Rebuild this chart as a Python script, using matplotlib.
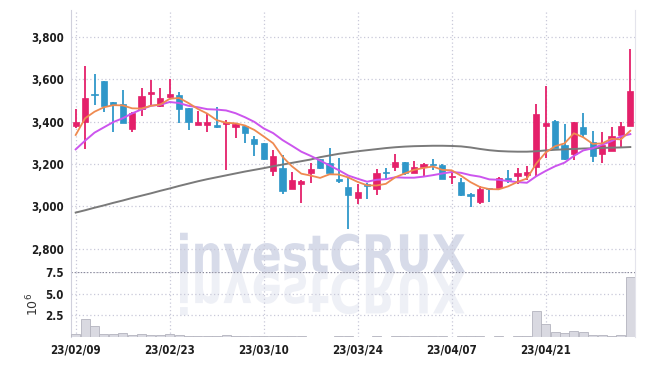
import matplotlib
matplotlib.use("Agg")
import matplotlib.pyplot as plt
import matplotlib.transforms as mtransforms
from matplotlib.textpath import TextPath
from matplotlib.patches import PathPatch
from matplotlib.font_manager import FontProperties, fontManager
from matplotlib.ticker import StrMethodFormatter, FixedLocator

# daily candles, 60 trading days from 23/02/09
opens = [3380, 3400, 3530, 3590, 3495, 3485, 3365, 3460, 3530, 3475,
         3515, 3525, 3465, 3385, 3383, 3385, 3388, 3376, 3380, 3318,
         3297, 3168, 3180, 3080, 3103, 3157, 3222, 3203, 3128, 3093,
         3040, 3106, 3081, 3160, 3184, 3208, 3156, 3184, 3200, 3195,
         3136, 3113, 3058, 3021, 3087, 3088, 3135, 3145, 3148, 3184,
         3381, 3405, 3290, 3245, 3373, 3304, 3246, 3262, 3337, 3380]
highs = [3460, 3665, 3625, 3590, 3495, 3550, 3445, 3560, 3595, 3560,
         3600, 3540, 3465, 3450, 3440, 3470, 3408, 3390, 3380, 3333,
         3300, 3266, 3242, 3163, 3122, 3203, 3225, 3274, 3226, 3140,
         3103, 3111, 3175, 3182, 3247, 3210, 3215, 3203, 3223, 3198,
         3171, 3135, 3062, 3096, 3088, 3138, 3171, 3179, 3190, 3483,
         3570, 3408, 3387, 3400, 3440, 3356, 3351, 3373, 3396, 3742]
lows = [3370, 3270, 3480, 3445, 3350, 3395, 3350, 3425, 3480, 3470,
        3513, 3395, 3360, 3383, 3350, 3372, 3170, 3325, 3297, 3237,
        3220, 3143, 3057, 3080, 3017, 3112, 3178, 3148, 3108, 2890,
        3012, 3036, 3054, 3124, 3168, 3150, 3155, 3143, 3171, 3128,
        3104, 3050, 2998, 3010, 3021, 3085, 3108, 3104, 3124, 3140,
        3230, 3275, 3220, 3218, 3327, 3209, 3203, 3260, 3278, 3378]
closes = [3400, 3510, 3525, 3475, 3480, 3395, 3440, 3520, 3540, 3510,
          3530, 3460, 3400, 3400, 3398, 3375, 3400, 3387, 3348, 3294,
          3222, 3237, 3070, 3124, 3119, 3175, 3180, 3157, 3117, 3053,
          3068, 3098, 3156, 3155, 3208, 3156, 3184, 3200, 3193, 3129,
          3143, 3053, 3050, 3081, 3080, 3135, 3124, 3156, 3160, 3436,
          3392, 3277, 3222, 3397, 3340, 3238, 3288, 3333, 3379, 3545]
volumes = [0.38, 2.08, 1.27, 0.38, 0.38, 0.50, 0.27, 0.38, 0.23, 0.23,
           0.38, 0.23, 0.15, 0.08, 0.15, 0.15, 0.27, 0.15, 0.12, 0.12,
           0.12, 0.12, 0.12, 0.12, 0.08, 0.05, 0.05, 0.05, 0.12, 0.12,
           0.05, 0.05, 0.12, 0.05, 0.12, 0.12, 0.12, 0.12, 0.12, 0.12,
           0.05, 0.12, 0.12, 0.12, 0.05, 0.12, 0.05, 0.12, 0.12, 3.04,
           1.54, 0.62, 0.50, 0.73, 0.54, 0.27, 0.27, 0.15, 0.23, 6.90]

# moving averages
ma_short = [3337, 3416, 3447, 3468, 3478, 3477, 3463, 3462, 3475, 3481,
            3508, 3512, 3488, 3460, 3438, 3407, 3395, 3392, 3382, 3361,
            3330, 3298, 3234, 3189, 3154, 3145, 3134, 3151, 3150, 3136,
            3115, 3099, 3098, 3106, 3137, 3155, 3172, 3181, 3188, 3172,
            3170, 3144, 3114, 3091, 3081, 3080, 3094, 3115, 3131, 3202,
            3254, 3284, 3297, 3345, 3326, 3295, 3297, 3319, 3316, 3357]
ma_mid = [3269, 3310, 3348, 3373, 3398, 3416, 3439, 3458, 3475, 3480,
          3493, 3488, 3475, 3468, 3459, 3457, 3453, 3440, 3421, 3399,
          3368, 3346, 3313, 3286, 3258, 3238, 3216, 3193, 3170, 3145,
          3130, 3116, 3125, 3128, 3137, 3135, 3135, 3140, 3147, 3155,
          3162, 3158, 3147, 3140, 3127, 3125, 3119, 3114, 3111, 3142,
          3167, 3189, 3206, 3238, 3264, 3274, 3291, 3308, 3330, 3341]
ma_long = [2970, 2981, 2993, 3004, 3016, 3027, 3039, 3050, 3061, 3073,
           3084, 3096, 3107, 3118, 3128, 3137, 3146, 3155, 3164, 3172,
           3180, 3189, 3197, 3205, 3213, 3221, 3232, 3240, 3248, 3254,
           3260, 3265, 3270, 3275, 3279, 3282, 3284, 3285, 3286, 3286,
           3285, 3283, 3278, 3271, 3265, 3261, 3259, 3258, 3258, 3260,
           3264, 3267, 3269, 3271, 3273, 3274, 3276, 3277, 3278, 3280]

tick_pos = [0, 10, 20, 30, 40, 50]
tick_labels = ["23/02/09", "23/02/23", "23/03/10", "23/03/24", "23/04/07", "23/04/21"]

UP = "#e4206a"
DOWN = "#2f97c9"
GRID = "#c9c9d9"

names = {f.name for f in fontManager.ttflist}
if "Liberation Sans Narrow" in names:
    tick_font = FontProperties(family="Liberation Sans Narrow", weight="bold", size=10)
else:
    tick_font = FontProperties(family="DejaVu Sans", stretch="condensed", weight="bold", size=8.3)

fig = plt.figure(figsize=(6.45, 3.66), dpi=100)
ax = fig.add_axes([71 / 645, 1 - 272 / 366, 564 / 645, 262 / 366])
axv = fig.add_axes([71 / 645, 1 - 337 / 366, 564 / 645, 65 / 366], sharex=ax)
for a in (ax, axv):
    a.set_facecolor("none")
    for s in ("top", "bottom", "right"):
        a.spines[s].set_visible(False)
    a.spines["left"].set_color("#d0d0dc")
    a.spines["right"].set_visible(True)
    a.spines["right"].set_color("#e4e4ec")
    a.tick_params(length=0, colors="#1e1e1e")
    a.grid(True, color=GRID, linestyle=(0, (1, 2)), linewidth=0.9)
    a.set_axisbelow(True)

# watermark with reflection
wm_font = FontProperties(family="DejaVu Sans", weight="bold")
tp = TextPath((0, 0), "investCRUX", size=1, prop=wm_font)
bb = tp.get_extents()
sx = 285 / bb.width / 645
sy = 40 / bb.height / 366
base = mtransforms.Affine2D().translate(-bb.x0, 0)
top_tr = base + mtransforms.Affine2D().scale(sx, sy).translate(180 / 645, (366 - 272) / 366) + fig.transFigure
bot_tr = base + mtransforms.Affine2D().scale(sx, -sy * 1.1).translate(180 / 645, (366 - 272) / 366) + fig.transFigure
fig.patches.append(PathPatch(tp, transform=top_tr, facecolor="#c6cce1", edgecolor="none", alpha=0.7, zorder=-5))
fig.patches.append(PathPatch(tp, transform=bot_tr, facecolor="#e1e4ef", edgecolor="none", alpha=0.55, zorder=-5))

x = list(range(len(opens)))
colors = [UP if c >= o else DOWN for o, c in zip(opens, closes)]
ax.vlines(x, lows, highs, colors=colors, linewidth=1.3, zorder=3)
bottoms = [min(o, c) for o, c in zip(opens, closes)]
heights = [max(abs(c - o), 6) for o, c in zip(opens, closes)]
ax.bar(x, heights, bottom=bottoms, width=0.68, color=colors, edgecolor=colors, linewidth=0.5, zorder=4)

ax.plot(x, ma_long, color="#7a7a7a", linewidth=1.4, zorder=5)
ax.plot(x, ma_mid, color="#cc55ee", linewidth=1.4, zorder=5)
ax.plot(x, ma_short, color="#ef8a50", linewidth=1.3, zorder=5)

ax.set_ylim(2689, 3928)
ax.set_xlim(-0.5, 59.5)
ax.yaxis.set_major_locator(FixedLocator([2800, 3000, 3200, 3400, 3600, 3800]))
ax.yaxis.set_major_formatter(StrMethodFormatter("{x:,.0f}"))
ax.xaxis.set_major_locator(FixedLocator(tick_pos))
plt.setp(ax.get_xticklabels(), visible=False)

axv.bar(x, volumes, width=0.95, color="#d9d9e1", edgecolor="#b4b4be", linewidth=0.6, zorder=3)
axv.set_ylim(0, 7.5)
axv.yaxis.set_major_locator(FixedLocator([2.5, 5.0, 7.5]))
axv.axhline(7.5, color="#8a8a9a", linestyle=(0, (1, 1.5)), linewidth=0.9, zorder=2)
axv.set_xticks(tick_pos)
axv.set_xticklabels(tick_labels)
axv.set_ylabel("$10^6$", fontsize=9, color="#333333", labelpad=3)

for lab in ax.get_yticklabels() + axv.get_yticklabels() + axv.get_xticklabels():
    lab.set_fontproperties(tick_font)
ax.tick_params(axis="y", pad=5)
axv.tick_params(axis="y", pad=5)
axv.tick_params(axis="x", pad=5)

fig.savefig("out.png", dpi=100)
